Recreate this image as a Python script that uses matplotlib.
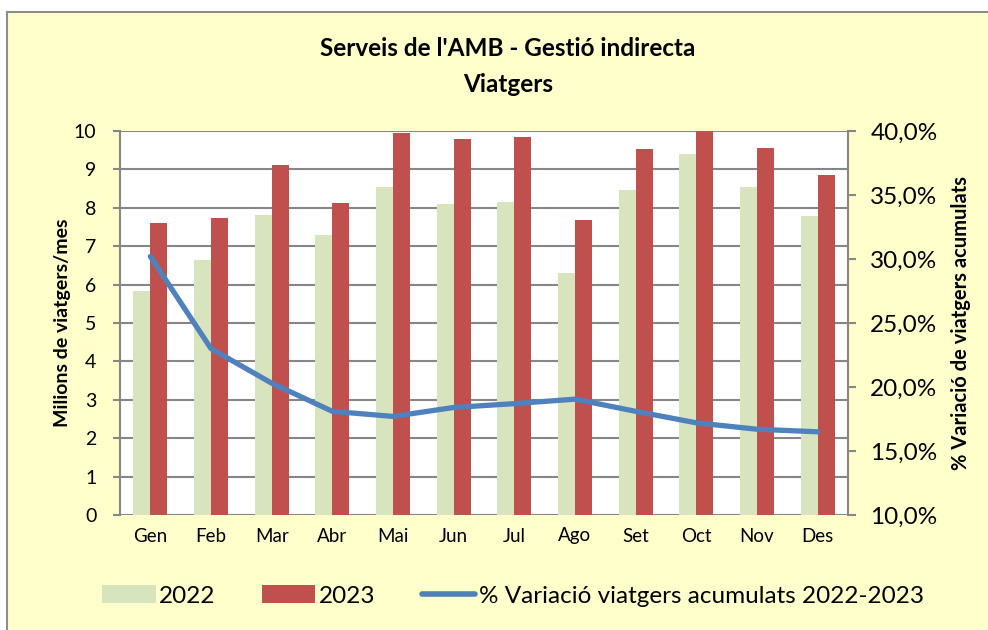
import matplotlib

matplotlib.use("Agg")
import matplotlib.pyplot as plt
from matplotlib.patches import Patch, Rectangle
from matplotlib.lines import Line2D
from matplotlib.ticker import FuncFormatter
import numpy as np

# dades llegides del gràfic
months = ["Gen", "Feb", "Mar", "Abr", "Mai", "Jun", "Jul", "Ago", "Set", "Oct", "Nov", "Des"]
pax_2022 = [5.83, 6.64, 7.81, 7.29, 8.54, 8.10, 8.15, 6.30, 8.46, 9.40, 8.54, 7.79]
pax_2023 = [7.60, 7.73, 9.11, 8.12, 9.95, 9.79, 9.84, 7.68, 9.53, 10.05, 9.56, 8.85]
var_acum = [30.2, 23.0, 20.3, 18.1, 17.7, 18.4, 18.7, 19.05, 18.1, 17.2, 16.7, 16.5]

COLOR_BG = "#FFFFCC"
COLOR_2022 = "#D7E4BD"
COLOR_2023 = "#C0504D"
COLOR_LINE = "#4F81BD"
COLOR_GRID = "#868686"

plt.rcParams["font.family"] = ["Lato", "DejaVu Sans"]

fig = plt.figure(figsize=(9.88, 6.3), dpi=100)
fig.patch.set_facecolor("white")
# chart area with grey border
fig.patches.append(
    Rectangle((7 / 988, -0.02), 1.02, 1 - 12 / 630 + 0.02, transform=fig.transFigure,
              facecolor=COLOR_BG, edgecolor="#8C8C8C", linewidth=1.5, zorder=-10)
)

ax = fig.add_axes([120 / 988, 1 - 515 / 630, (848 - 120) / 988, (515 - 131) / 630])
ax.set_facecolor("white")
x = np.arange(len(months))
w = 0.28
ax.bar(x - w / 2, pax_2022, width=w, color=COLOR_2022, zorder=2)
ax.bar(x + w / 2, pax_2023, width=w, color=COLOR_2023, zorder=2)
ax.set_xlim(-0.5, len(months) - 0.5)
ax.set_ylim(0, 10)
ax.set_yticks(range(0, 11))
ax.set_xticks(x)
ax.set_xticklabels(months, fontsize=13.5)
ax.tick_params(axis="x", length=0, pad=9)
ax.tick_params(axis="y", labelsize=14, length=5, color=COLOR_GRID, width=1.5, pad=12)
ax.yaxis.grid(True, color=COLOR_GRID, linewidth=1.5, zorder=0)
ax.set_axisbelow(True)
for s in ["top", "right", "bottom"]:
    ax.spines[s].set_visible(False)
ax.spines["left"].set_color(COLOR_GRID)
ax.spines["left"].set_linewidth(1.5)
ax.set_ylabel("Milions de viatgers/mes", fontsize=14, fontweight="bold", labelpad=2)

ax2 = ax.twinx()
ax2.plot(x, var_acum, color=COLOR_LINE, linewidth=3.8, solid_capstyle="round", zorder=3)
ax2.set_ylim(10, 40)
ax2.set_yticks(range(10, 41, 5))
ax2.yaxis.set_major_formatter(FuncFormatter(lambda v, _p: f"{v:.1f}%".replace(".", ",")))
ax2.tick_params(axis="y", labelsize=17.5, length=6, color=COLOR_GRID, width=1.5, pad=10)
for s in ["top", "left", "bottom"]:
    ax2.spines[s].set_visible(False)
ax2.spines["right"].set_color(COLOR_GRID)
ax2.spines["right"].set_linewidth(1.5)
ax2.set_ylabel("% Variació de viatgers acumulats", fontsize=14.5, fontweight="bold", labelpad=10)

fig.text(508 / 988, 1 - 48 / 630, "Serveis de l'AMB - Gestió indirecta", ha="center", va="center",
         fontsize=17.5, fontweight="bold")
fig.text(508 / 988, 1 - 84 / 630, "Viatgers", ha="center", va="center",
         fontsize=17.5, fontweight="bold")

handles = [
    Patch(facecolor=COLOR_2022, edgecolor="none", label="2022"),
    Patch(facecolor=COLOR_2023, edgecolor="none", label="2023"),
    Line2D([], [], color=COLOR_LINE, linewidth=4, solid_capstyle="round",
           label="% Variació viatgers acumulats 2022-2023"),
]
fig.legend(handles=handles, loc="center", bbox_to_anchor=(513 / 988, 1 - 596 / 630), ncol=3,
           frameon=False, fontsize=17.5, handlelength=2.2, handleheight=0.75,
           columnspacing=1.9, handletextpad=0.15)

fig.savefig("out.png", dpi=100, facecolor=fig.get_facecolor())
